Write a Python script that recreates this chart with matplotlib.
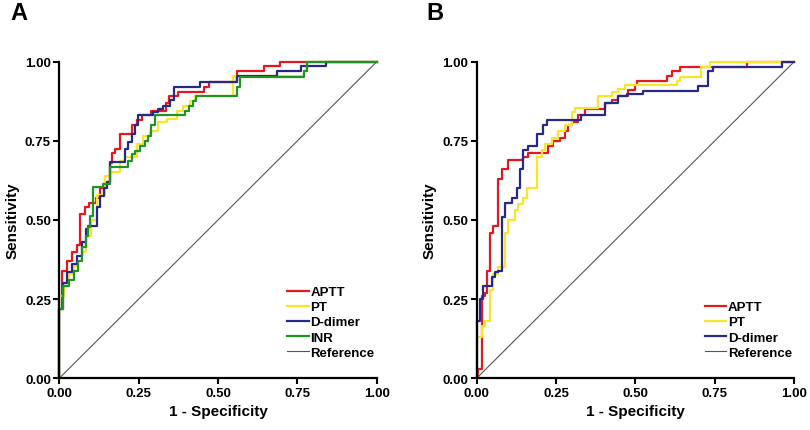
import matplotlib
matplotlib.use("Agg")
import matplotlib.pyplot as plt

plt.rcParams["font.family"] = ["Liberation Sans", "DejaVu Sans"]
plt.rcParams["font.weight"] = "bold"

# ---- Panel A: ROC step corners (1 - specificity, sensitivity) ----
a_aptt_x = [0, 0, 0.008, 0.025, 0.04, 0.055, 0.066, 0.08, 0.095, 0.115, 0.128, 0.145, 0.16, 0.167,
            0.175, 0.19, 0.228, 0.245, 0.26, 0.29, 0.335, 0.345, 0.375, 0.455, 0.47, 0.56, 0.645, 0.695, 1.0]
a_aptt_y = [0, 0.22, 0.34, 0.37, 0.40, 0.42, 0.52, 0.54, 0.555, 0.57, 0.60, 0.62, 0.68, 0.71,
            0.725, 0.77, 0.80, 0.815, 0.83, 0.845, 0.87, 0.89, 0.905, 0.92, 0.935, 0.97, 0.985, 1.0, 1.0]

a_pt_x = [0, 0, 0.015, 0.03, 0.045, 0.056, 0.07, 0.085, 0.1, 0.12, 0.145, 0.16, 0.19, 0.207, 0.244,
          0.265, 0.286, 0.312, 0.338, 0.37, 0.391, 0.412, 0.428, 0.548, 0.57, 0.77, 0.78, 1.0]
a_pt_y = [0, 0.26, 0.29, 0.33, 0.355, 0.37, 0.40, 0.45, 0.50, 0.58, 0.64, 0.65, 0.687, 0.70, 0.74,
          0.765, 0.782, 0.808, 0.82, 0.845, 0.861, 0.877, 0.89, 0.955, 0.955, 0.97, 1.0, 1.0]

a_dd_x = [0, 0, 0.013, 0.023, 0.04, 0.055, 0.07, 0.084, 0.091, 0.118, 0.128, 0.14, 0.15, 0.16,
          0.207, 0.217, 0.228, 0.238, 0.249, 0.296, 0.31, 0.328, 0.349, 0.36, 0.443, 0.56, 0.685,
          0.76, 0.84, 1.0]
a_dd_y = [0, 0.22, 0.30, 0.335, 0.36, 0.387, 0.43, 0.47, 0.48, 0.54, 0.577, 0.60, 0.62, 0.682,
          0.724, 0.745, 0.77, 0.80, 0.83, 0.84, 0.85, 0.86, 0.88, 0.92, 0.935, 0.955, 0.97,
          0.985, 1.0, 1.0]

a_inr_x = [0, 0, 0.012, 0.03, 0.045, 0.06, 0.07, 0.084, 0.09, 0.097, 0.107, 0.139, 0.16, 0.217,
           0.228, 0.238, 0.254, 0.27, 0.28, 0.29, 0.30, 0.396, 0.41, 0.42, 0.43, 0.56, 0.57, 0.77,
           0.78, 1.0]
a_inr_y = [0, 0.22, 0.29, 0.31, 0.34, 0.37, 0.414, 0.45, 0.477, 0.514, 0.603, 0.614, 0.666, 0.687,
           0.708, 0.719, 0.735, 0.75, 0.766, 0.80, 0.83, 0.845, 0.86, 0.875, 0.89, 0.92, 0.95, 0.97,
           1.0, 1.0]

# ---- Panel B ----
b_aptt_x = [0, 0.005, 0.018, 0.026, 0.031, 0.042, 0.052, 0.068, 0.079, 0.10, 0.147, 0.163, 0.226,
            0.24, 0.262, 0.278, 0.289, 0.30, 0.32, 0.341, 0.404, 0.425, 0.446, 0.478, 0.498, 0.504,
            0.598, 0.614, 0.64, 0.85, 1.0]
b_aptt_y = [0, 0.03, 0.26, 0.27, 0.34, 0.46, 0.48, 0.63, 0.66, 0.69, 0.70, 0.71, 0.735,
            0.75, 0.76, 0.78, 0.80, 0.81, 0.83, 0.85, 0.87, 0.88, 0.89, 0.91, 0.925, 0.94,
            0.956, 0.971, 0.984, 1.0, 1.0]

b_pt_x = [0, 0, 0.016, 0.026, 0.042, 0.052, 0.068, 0.089, 0.10, 0.121, 0.131, 0.147, 0.157, 0.189,
          0.205, 0.215, 0.236, 0.257, 0.278, 0.30, 0.31, 0.383, 0.425, 0.446, 0.467, 0.63, 0.64,
          0.708, 0.735, 1.0]
b_pt_y = [0, 0.13, 0.165, 0.18, 0.28, 0.33, 0.35, 0.46, 0.50, 0.53, 0.55, 0.57, 0.60, 0.70,
          0.72, 0.74, 0.76, 0.78, 0.80, 0.84, 0.855, 0.89, 0.905, 0.915, 0.927, 0.94, 0.95,
          0.984, 1.0, 1.0]

b_dd_x = [0, 0, 0.01, 0.021, 0.047, 0.058, 0.068, 0.079, 0.089, 0.11, 0.126, 0.136, 0.147, 0.163,
          0.189, 0.21, 0.22, 0.33, 0.404, 0.446, 0.472, 0.524, 0.698, 0.73, 0.745, 0.96, 1.0]
b_dd_y = [0, 0.18, 0.25, 0.29, 0.32, 0.335, 0.34, 0.51, 0.555, 0.57, 0.60, 0.66, 0.72, 0.735,
          0.77, 0.80, 0.815, 0.83, 0.87, 0.89, 0.897, 0.908, 0.924, 0.97, 0.984, 1.0, 1.0]

ref_x = [0, 1]
ref_y = [0, 1]

RED = "#e3191f"
YELLOW = "#f7e52c"
BLUE = "#262a86"
GREEN = "#1d9424"
GREY = "#555555"


def style_axes(ax):
    ax.set_xlim(0, 1)
    ax.set_ylim(0, 1)
    ticks = [0, 0.25, 0.5, 0.75, 1.0]
    ax.set_xticks(ticks)
    ax.set_yticks(ticks)
    ax.set_xticklabels([f"{t:.2f}" for t in ticks], fontsize=9.5, fontweight="bold")
    ax.set_yticklabels([f"{t:.2f}" for t in ticks], fontsize=9.5, fontweight="bold")
    for side in ("top", "right"):
        ax.spines[side].set_visible(False)
    for side in ("left", "bottom"):
        ax.spines[side].set_linewidth(1.6)
    ax.tick_params(direction="out", length=4, width=1.5, pad=2)
    ax.set_xlabel("1 - Specificity", fontsize=11, fontweight="bold", labelpad=4)
    ax.set_ylabel("Sensitivity", fontsize=11, fontweight="bold", labelpad=4)


def draw(ax, curves):
    for x, y, color, label in curves:
        ax.plot(x, y, drawstyle="steps-post", color=color, lw=1.6, label=label, clip_on=False)
    ax.plot(ref_x, ref_y, color=GREY, lw=0.8, label="Reference", zorder=1)
    ax.legend(loc="lower right", bbox_to_anchor=(1.01, 0.045), frameon=False,
              handlelength=1.6, handletextpad=0.15, labelspacing=0.22,
              prop={"size": 9.5, "weight": "bold"}, borderaxespad=0)


fig = plt.figure(figsize=(8.1, 4.31), dpi=100)
ax_a = fig.add_axes([0.0732, 0.120, 0.392, 0.7346])
ax_b = fig.add_axes([0.5885, 0.120, 0.392, 0.7346])

draw(ax_a, [
    (a_aptt_x, a_aptt_y, RED, "APTT"),
    (a_pt_x, a_pt_y, YELLOW, "PT"),
    (a_dd_x, a_dd_y, BLUE, "D-dimer"),
    (a_inr_x, a_inr_y, GREEN, "INR"),
])
draw(ax_b, [
    (b_aptt_x, b_aptt_y, RED, "APTT"),
    (b_pt_x, b_pt_y, YELLOW, "PT"),
    (b_dd_x, b_dd_y, BLUE, "D-dimer"),
])
style_axes(ax_a)
style_axes(ax_b)

fig.text(19 / 810, 1 - 14 / 431, "A", fontsize=17, fontweight="bold", ha="center", va="center")
fig.text(435 / 810, 1 - 14 / 431, "B", fontsize=17, fontweight="bold", ha="center", va="center")

fig.savefig("out.png", dpi=100)
